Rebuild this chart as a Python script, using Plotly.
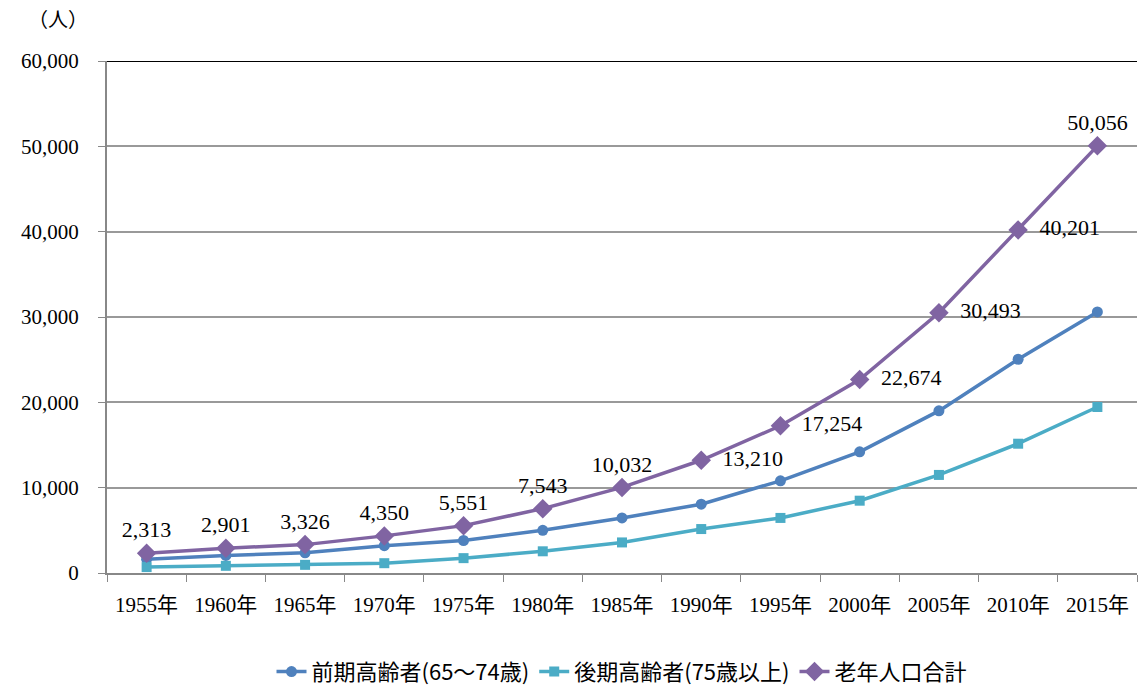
import plotly.graph_objects as go

years = ["1955年", "1960年", "1965年", "1970年", "1975年", "1980年", "1985年",
         "1990年", "1995年", "2000年", "2005年", "2010年", "2015年"]
early = [1620, 2060, 2370, 3200, 3810, 5000, 6450, 8060, 10800, 14200, 19000, 25050, 30600]
late = [693, 841, 956, 1150, 1741, 2543, 3582, 5150, 6454, 8474, 11493, 15151, 19456]
total = [2313, 2901, 3326, 4350, 5551, 7543, 10032, 13210, 17254, 22674, 30493, 40201, 50056]
total_pos = ["top center"] * 7 + ["middle right"] * 5 + ["top center"]

names = ["前期高齢者(65～74歳)", "後期高齢者(75歳以上)", "老年人口合計"]
colors = ["#4F81BD", "#4BACC6", "#8064A2"]

serif = "Liberation Serif, Noto Sans CJK JP, serif"
sans = "Noto Sans CJK JP, sans-serif"

labels = [("  " if p == "middle right" else "") + f"{v:,}" for v, p in zip(total, total_pos)]

fig = go.Figure()
fig.add_trace(go.Scatter(x=years, y=early, name=names[0], mode="lines+markers",
                         line=dict(color=colors[0], width=3.5),
                         marker=dict(symbol="circle", size=11, color=colors[0])))
fig.add_trace(go.Scatter(x=years, y=late, name=names[1], mode="lines+markers",
                         line=dict(color=colors[1], width=3.5),
                         marker=dict(symbol="square", size=10, color=colors[1])))
fig.add_trace(go.Scatter(x=years, y=total, name=names[2], mode="lines+markers+text",
                         line=dict(color=colors[2], width=3.5),
                         marker=dict(symbol="diamond", size=15, color=colors[2]),
                         text=labels, textposition=total_pos,
                         textfont=dict(family=serif, size=22, color="black")))

fig.add_shape(type="line", xref="paper", yref="y", x0=0, x1=1, y0=60000, y1=60000,
              line=dict(color="black", width=2))

fig.add_annotation(text="（人）", xref="paper", yref="paper", x=-0.048, y=1.055,
                   xanchor="center", yanchor="bottom", showarrow=False,
                   font=dict(family=serif, size=20, color="black"))

fig.update_layout(
    width=1139, height=688,
    margin=dict(l=107, r=2, t=61, b=115, autoexpand=False),
    plot_bgcolor="white", paper_bgcolor="white",
    showlegend=True,
    legend=dict(orientation="h", x=0.5, xanchor="center", y=-0.193, yanchor="middle",
                font=dict(family=sans, size=22, color="black"),
                tracegroupgap=0),
    xaxis=dict(type="category", tickson="boundaries", ticks="outside", ticklen=7,
               tickcolor="#888888", showline=True, linecolor="#888888", linewidth=2,
               showgrid=False, tickfont=dict(family=serif, size=21, color="black"),
               ticklabelstandoff=12, range=[-0.5, 12.5]),
    yaxis=dict(range=[0, 60000], dtick=10000, tickformat=",", ticks="outside",
               ticklen=7, tickcolor="#888888", showline=True, linecolor="#888888",
               linewidth=2, showgrid=True, gridcolor="#999999", gridwidth=1.5,
               zeroline=False, ticklabelstandoff=15,
               tickfont=dict(family=serif, size=21, color="black")),
)

fig.write_html("out.html")
